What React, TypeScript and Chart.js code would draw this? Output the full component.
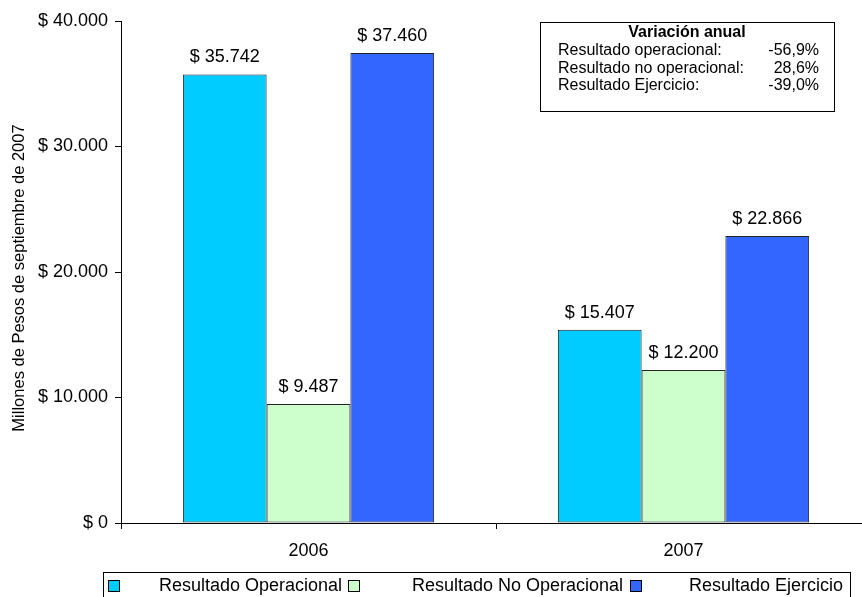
import React, { useEffect, useRef } from "react";
import { Chart, registerables } from "chart.js";

Chart.register(...registerables);

const categories = ["2006", "2007"];
const seriesNames = ["Resultado Operacional", "Resultado No Operacional", "Resultado Ejercicio"];
const operacional = [35742, 15407];
const noOperacional = [9487, 12200];
const ejercicio = [37460, 22866];
const seriesColors = ["#00CCFF", "#CCFFCC", "#3366FF"];
const yTicks = [0, 10000, 20000, 30000, 40000];
const boxTitle = "Variación anual";
const boxLabels = ["Resultado operacional:", "Resultado no operacional:", "Resultado Ejercicio:"];
const boxValues = ["-56,9%", "28,6%", "-39,0%"];
const yTitle = "Millones de Pesos de septiembre de 2007";

const FONT = "'Liberation Sans', Arial, sans-serif";

const fmt = (v: number) => "$ " + Math.round(v).toString().replace(/\B(?=(\d{3})+(?!\d))/g, ".");

const overlayPlugin = {
  id: "overlay",
  afterDatasetsDraw(chart: any) {
    const ctx = chart.ctx as CanvasRenderingContext2D;
    ctx.save();
    // data labels
    ctx.fillStyle = "#000";
    ctx.font = `18px ${FONT}`;
    ctx.textAlign = "center";
    ctx.textBaseline = "alphabetic";
    chart.data.datasets.forEach((ds: any, di: number) => {
      const meta = chart.getDatasetMeta(di);
      meta.data.forEach((bar: any, i: number) => {
        ctx.fillText(fmt(ds.data[i]), bar.x, bar.y - 12);
      });
    });
    // y axis title
    ctx.save();
    ctx.translate(19, 278);
    ctx.rotate(-Math.PI / 2);
    ctx.font = `16.5px ${FONT}`;
    ctx.textAlign = "center";
    ctx.textBaseline = "middle";
    ctx.fillText(yTitle, 0, 0);
    ctx.restore();
    // variation box
    ctx.strokeStyle = "#000";
    ctx.lineWidth = 1;
    ctx.strokeRect(540.5, 22.5, 294, 89);
    ctx.font = `bold 16px ${FONT}`;
    ctx.textBaseline = "middle";
    ctx.textAlign = "center";
    ctx.fillText(boxTitle, 687, 33);
    ctx.font = `16px ${FONT}`;
    boxLabels.forEach((l, i) => {
      const y = 51 + i * 17.5;
      ctx.textAlign = "left";
      ctx.fillText(l, 558, y);
      ctx.textAlign = "right";
      ctx.fillText(boxValues[i], 819, y);
    });
    // legend
    ctx.strokeRect(103.5, 572.5, 747, 30);
    const squares = [108, 348, 630];
    const textEnds = [342, 623, 843];
    ctx.font = `18px ${FONT}`;
    ctx.textBaseline = "middle";
    seriesNames.forEach((n, i) => {
      ctx.fillStyle = seriesColors[i];
      ctx.fillRect(squares[i] + 0.5, 580.5, 11, 11);
      ctx.strokeStyle = "#000";
      ctx.strokeRect(squares[i] + 0.5, 580.5, 11, 11);
      ctx.fillStyle = "#000";
      ctx.textAlign = "right";
      ctx.fillText(n, textEnds[i], 586);
    });
    ctx.restore();
  },
};

export default function App() {
  const ref = useRef<HTMLCanvasElement>(null);
  useEffect(() => {
    if (!ref.current) return;
    const data = [operacional, noOperacional, ejercicio];
    const chart = new Chart(ref.current, {
      type: "bar",
      data: {
        labels: categories,
        datasets: seriesNames.map((n, i) => ({
          label: n,
          data: data[i],
          backgroundColor: seriesColors[i],
          borderColor: "#222",
          borderWidth: 1,
          borderSkipped: false,
          categoryPercentage: 0.67,
          barPercentage: 1,
        })),
      },
      options: {
        animation: false,
        responsive: false,
        events: [],
        layout: { padding: { top: 21, right: 4, left: 0, bottom: 0 } },
        plugins: { legend: { display: false }, tooltip: { enabled: false } },
        scales: {
          x: {
            offset: true,
            grid: { offset: true, drawOnChartArea: false, drawTicks: true, tickLength: 6, color: "#000" },
            border: { display: true, color: "#000", width: 1 },
            ticks: { color: "#000", font: { family: FONT, size: 18 }, padding: 11 },
            afterFit: (s: any) => { s.height = 74; },
          },
          y: {
            min: 0,
            max: 40000,
            afterBuildTicks: (s: any) => { s.ticks = yTicks.map((v) => ({ value: v })); },
            grid: { drawOnChartArea: false, drawTicks: true, tickLength: 6, color: "#000" },
            border: { display: true, color: "#000", width: 1 },
            ticks: { color: "#000", font: { family: FONT, size: 18 }, padding: 7, callback: (v: any) => fmt(Number(v)) },
            afterFit: (s: any) => { s.width = 121; },
          },
        },
      },
      plugins: [overlayPlugin],
    });
    return () => chart.destroy();
  }, []);
  return (
    <div style={{ position: "fixed", left: 0, top: 0, width: 875, height: 597, background: "#fff" }}>
      <canvas ref={ref} width={875} height={597} style={{ display: "block" }} />
    </div>
  );
}
